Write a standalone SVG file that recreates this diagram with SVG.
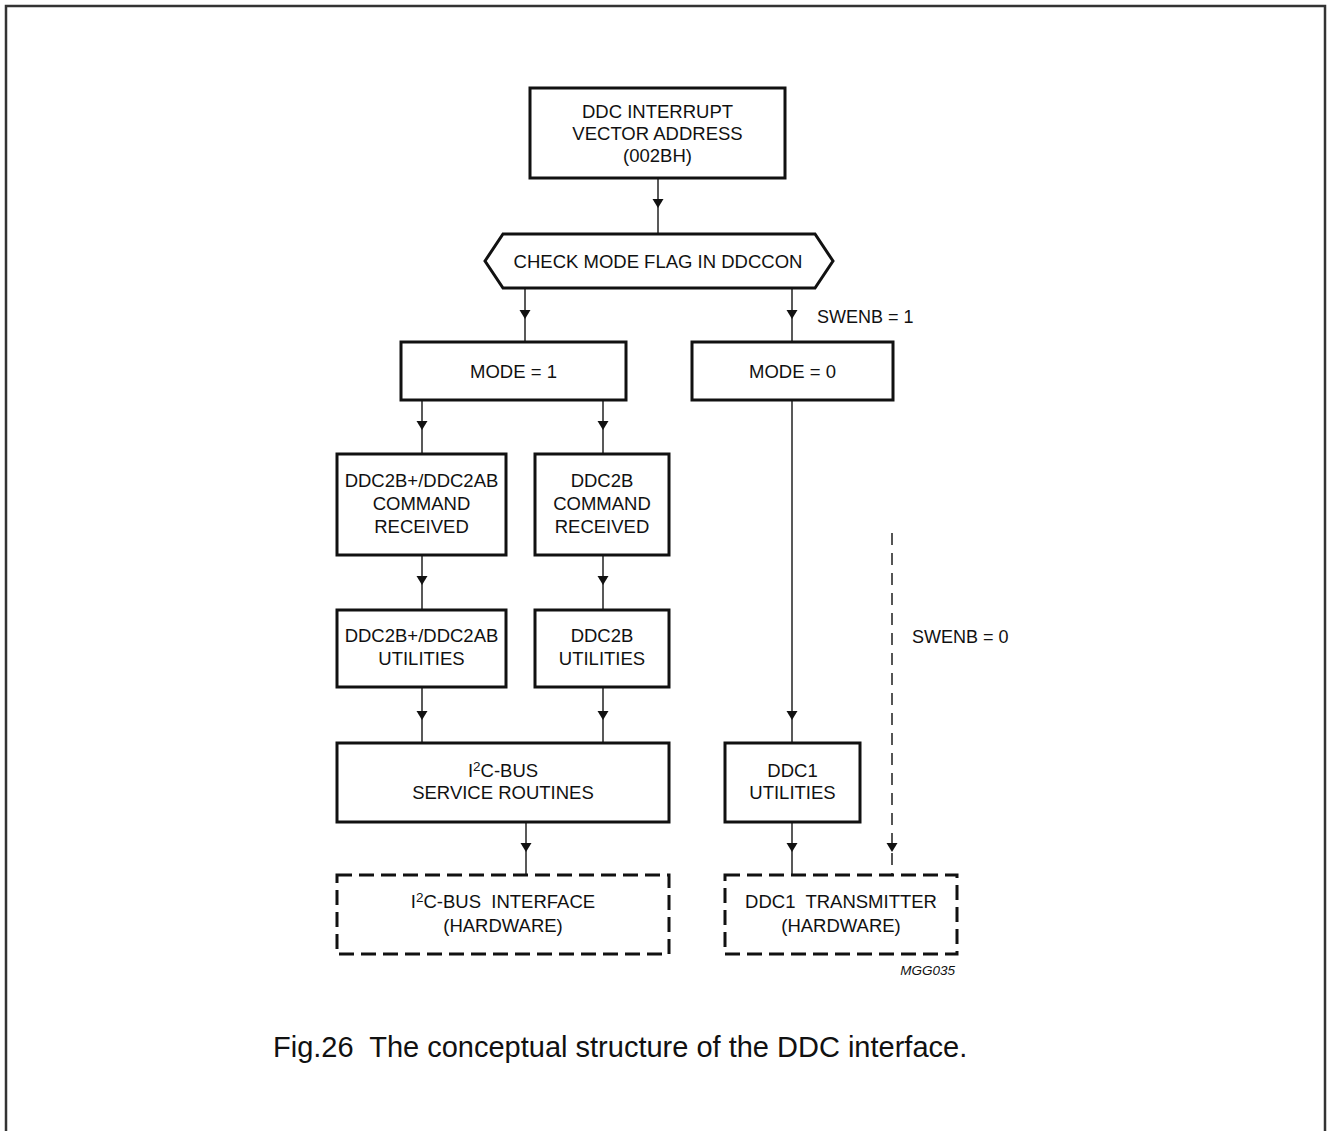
<svg xmlns="http://www.w3.org/2000/svg" xmlns:xlink="http://www.w3.org/1999/xlink" width="1327" height="1131" viewBox="0 0 1327 1131">
<style>
  text { font-family: "Liberation Sans", Arial, sans-serif; font-size: 18.5px; fill: #111; }
  .c { text-anchor: middle; }
  .box { fill: #fff; stroke: #111; stroke-width: 3; }
  .dbox { fill: #fff; stroke: #111; stroke-width: 3; stroke-dasharray: 15 7; }
  .ln { fill: none; stroke: #222; stroke-width: 1.5; }
  .dln { fill: none; stroke: #555; stroke-width: 2; stroke-dasharray: 12 8; }
  .lbl { font-size: 18px; }
  .id { font-size: 13.5px; font-style: italic; text-anchor: end; }
  .cap { font-size: 29px; }
</style>
<defs>
  <path id="ah" d="M-5.5,-9 L5.5,-9 L0,0 Z" fill="#111"/>
</defs>
<rect x="6" y="6" width="1319" height="1140" fill="none" stroke="#333" stroke-width="2.5"/>

<g id="connectors">
  <line class="ln" x1="658" y1="178" x2="658" y2="234"/>
  <use xlink:href="#ah" x="658" y="208"/>
  <line class="ln" x1="525" y1="288" x2="525" y2="342"/>
  <use xlink:href="#ah" x="525" y="319"/>
  <line class="ln" x1="792" y1="288" x2="792" y2="342"/>
  <use xlink:href="#ah" x="792" y="319"/>
  <line class="ln" x1="422" y1="400" x2="422" y2="454"/>
  <use xlink:href="#ah" x="422" y="430"/>
  <line class="ln" x1="603" y1="400" x2="603" y2="454"/>
  <use xlink:href="#ah" x="603" y="430"/>
  <line class="ln" x1="422" y1="555" x2="422" y2="610"/>
  <use xlink:href="#ah" x="422" y="585"/>
  <line class="ln" x1="603" y1="555" x2="603" y2="610"/>
  <use xlink:href="#ah" x="603" y="585"/>
  <line class="ln" x1="422" y1="687" x2="422" y2="743"/>
  <use xlink:href="#ah" x="422" y="720"/>
  <line class="ln" x1="603" y1="687" x2="603" y2="743"/>
  <use xlink:href="#ah" x="603" y="720"/>
  <line class="ln" x1="526" y1="822" x2="526" y2="875"/>
  <use xlink:href="#ah" x="526" y="852"/>
  <line class="ln" x1="792" y1="400" x2="792" y2="743"/>
  <use xlink:href="#ah" x="792" y="720"/>
  <line class="ln" x1="792" y1="822" x2="792" y2="875"/>
  <use xlink:href="#ah" x="792" y="852"/>
  <line class="dln" x1="892" y1="533" x2="892" y2="875"/>
  <use xlink:href="#ah" x="892" y="852"/>
  <text class="lbl" x="817" y="323">SWENB = 1</text>
  <text class="lbl" x="912" y="643">SWENB = 0</text>
</g>

<g id="n-vector">
  <rect class="box" x="530" y="88" width="255" height="90"/>
  <text class="c" x="657.5" y="118">DDC INTERRUPT</text>
  <text class="c" x="657.5" y="140">VECTOR ADDRESS</text>
  <text class="c" x="657.5" y="162">(002BH)</text>
</g>

<g id="n-check">
  <polygon class="box" points="485,261 503,234 815,234 833,261 815,288 503,288"/>
  <text class="c" x="658" y="268">CHECK MODE FLAG IN DDCCON</text>
</g>

<g id="n-mode1">
  <rect class="box" x="401" y="342" width="225" height="58"/>
  <text class="c" x="513.5" y="378">MODE = 1</text>
</g>

<g id="n-mode0">
  <rect class="box" x="692" y="342" width="201" height="58"/>
  <text class="c" x="792.5" y="378">MODE = 0</text>
</g>

<g id="n-cmd2ab">
  <rect class="box" x="337" y="454" width="169" height="101"/>
  <text class="c" x="421.5" y="487">DDC2B+/DDC2AB</text>
  <text class="c" x="421.5" y="510">COMMAND</text>
  <text class="c" x="421.5" y="533">RECEIVED</text>
</g>

<g id="n-cmd2b">
  <rect class="box" x="535" y="454" width="134" height="101"/>
  <text class="c" x="602" y="487">DDC2B</text>
  <text class="c" x="602" y="510">COMMAND</text>
  <text class="c" x="602" y="533">RECEIVED</text>
</g>

<g id="n-util2ab">
  <rect class="box" x="337" y="610" width="169" height="77"/>
  <text class="c" x="421.5" y="642">DDC2B+/DDC2AB</text>
  <text class="c" x="421.5" y="665">UTILITIES</text>
</g>

<g id="n-util2b">
  <rect class="box" x="535" y="610" width="134" height="77"/>
  <text class="c" x="602" y="642">DDC2B</text>
  <text class="c" x="602" y="665">UTILITIES</text>
</g>

<g id="n-i2c-service">
  <rect class="box" x="337" y="743" width="332" height="79"/>
  <text class="c" x="503" y="777">I<tspan font-size="13.5" dy="-6">2</tspan><tspan dy="6">C-BUS</tspan></text>
  <text class="c" x="503" y="799">SERVICE ROUTINES</text>
</g>

<g id="n-ddc1-util">
  <rect class="box" x="725" y="743" width="135" height="79"/>
  <text class="c" x="792.5" y="777">DDC1</text>
  <text class="c" x="792.5" y="799">UTILITIES</text>
</g>

<g id="n-i2c-hw">
  <rect class="dbox" x="337" y="875" width="332" height="79"/>
  <text class="c" x="503" y="908" xml:space="preserve">I<tspan font-size="13.5" dy="-6">2</tspan><tspan dy="6">C-BUS  INTERFACE</tspan></text>
  <text class="c" x="503" y="932">(HARDWARE)</text>
</g>

<g id="n-ddc1-hw">
  <rect class="dbox" x="725" y="875" width="232" height="79"/>
  <text class="c" x="841" y="908" xml:space="preserve">DDC1  TRANSMITTER</text>
  <text class="c" x="841" y="932">(HARDWARE)</text>
</g>

<text class="id" x="955" y="975">MGG035</text>
<text class="cap" x="273" y="1057" xml:space="preserve">Fig.26  The conceptual structure of the DDC interface.</text>
</svg>
